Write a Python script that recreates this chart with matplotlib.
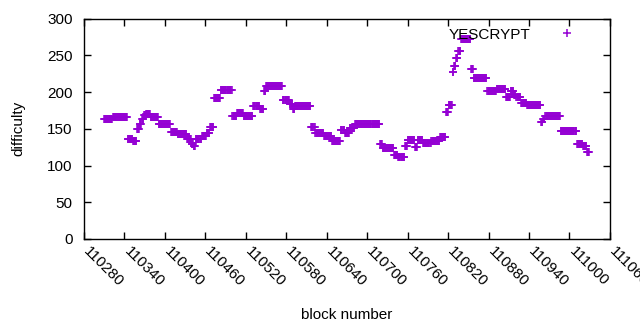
import numpy as np
import matplotlib
matplotlib.use("Agg")
import matplotlib.pyplot as plt
from matplotlib.transforms import ScaledTranslation

plt.rcParams["font.family"] = ["Liberation Sans", "DejaVu Sans"]

# difficulty plateaus: first block of each run and its difficulty
run_start = [110310, 110323, 110345, 110353, 110359, 110363, 110366, 110369, 110372, 110379,
             110391, 110409, 110419, 110433, 110440, 110443, 110446, 110455, 110462, 110467,
             110473, 110483, 110500, 110507, 110517, 110531, 110541, 110547, 110550, 110575,
             110585, 110590, 110593, 110617, 110623, 110636, 110648, 110661, 110667, 110674,
             110682, 110719, 110723, 110740, 110746, 110756, 110760, 110771, 110775, 110783,
             110795, 110808, 110817, 110821, 110827, 110829, 110832, 110835, 110839, 110854,
             110858, 110878, 110892, 110906, 110913, 110918, 110921, 110928, 110937, 110958,
             110961, 110964, 110987, 111011, 111020, 111026]
last_block = 111029
run_difficulty = [163, 166, 136, 134, 150, 156, 163, 169, 170, 166,
                  156, 145.5, 143, 136, 130, 126, 136, 140, 144, 152,
                  192, 203, 167, 171, 168, 181, 177, 202, 209, 190,
                  184, 177, 181, 152, 145, 140, 133, 148, 144, 151,
                  156, 129, 124, 115, 111, 126, 135, 125, 135, 131,
                  133, 139, 173, 182, 228, 236, 246, 256, 272, 232,
                  219, 201, 205, 193, 202, 196, 193, 185, 182, 160,
                  164, 167, 147, 129, 126, 119]

run_length = np.diff(run_start + [last_block + 1])
difficulty = np.repeat(run_difficulty, run_length)
blocks = run_start[0] + np.arange(len(difficulty))

x_ticks = np.arange(110280, 111061, 60)
y_ticks = np.arange(0, 301, 50)

fig = plt.figure(figsize=(6.4, 3.3), dpi=100)
ax = fig.add_axes([0.131, 0.276, 0.822, 0.667])
ax.plot(blocks, difficulty, ls="None", marker="+", markersize=5.5,
        markeredgewidth=1.1, color="#9400D3", label="YESCRYPT")

ax.set_xlim(110280, 111060)
ax.set_ylim(0, 300)
ax.set_xticks(x_ticks)
ax.set_yticks(y_ticks)
ax.tick_params(direction="in", top=True, right=True, length=5, width=1,
               labelsize=11)
ax.tick_params(axis="x", pad=11)
ax.tick_params(axis="y", pad=8)
shift = ScaledTranslation(-0.03, 0, fig.dpi_scale_trans)
for lbl in ax.get_xticklabels():
    lbl.set_rotation(-45)
    lbl.set_ha("left")
    lbl.set_va("bottom")
    lbl.set_rotation_mode("anchor")
    lbl.set_transform(lbl.get_transform() + shift)
for s in ax.spines.values():
    s.set_linewidth(1)

ax.set_xlabel("block number", fontsize=11)
ax.xaxis.set_label_coords(0.5, -0.315)
ax.set_ylabel("difficulty", fontsize=11, labelpad=16)
ax.legend(loc="upper right", bbox_to_anchor=(0.959, 0.987), frameon=False,
          markerfirst=False, fontsize=11, handlelength=2, borderaxespad=0,
          borderpad=0.4, handletextpad=1.42)

plt.savefig("out.png")
